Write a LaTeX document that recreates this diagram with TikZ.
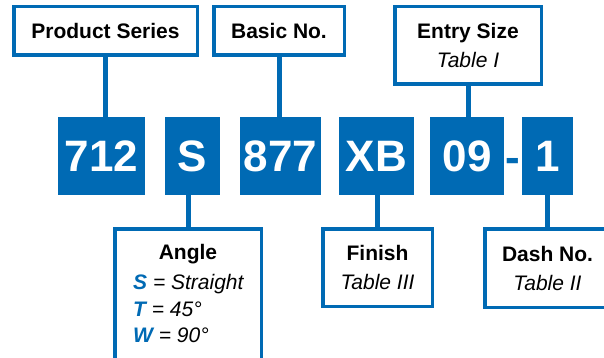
\documentclass[tikz,border=0pt]{standalone}
\usepackage{fontspec}
\setmainfont{Liberation Sans}
\definecolor{pblue}{RGB}{0,106,180}
\begin{document}
\begin{tikzpicture}[x=1pt,y=-1pt,
  code/.style={fill=pblue, text=white, font=\fontsize{44}{44}\selectfont\bfseries,
    inner sep=0pt, outer sep=0pt, minimum height=78pt, text height=31.5pt, text depth=0pt,
    anchor=north west},
  lbl/.style={draw=pblue, line width=3.5pt, fill=white, inner sep=0pt, outer sep=0pt,
    align=center, font=\fontsize{21}{29}\selectfont},
  conn/.style={draw=pblue, line width=5pt},
  hd/.style={font=\fontsize{21}{29}\selectfont\bfseries},
  bl/.style={text=pblue, font=\bfseries\itshape}]
\useasboundingbox (0,0) rectangle (604,358);
\clip (0,0) rectangle (604,358);
\fill[white] (0,0) rectangle (604,358);
% code boxes
\node[code, minimum width=87pt] (c712) at (58,117) {712};
\node[code, minimum width=55pt] (cS) at (165,117) {S};
\node[code, minimum width=81pt] (c877) at (240,117) {877};
\node[code, minimum width=75pt] (cXB) at (339,117) {XB};
\node[code, minimum width=74pt] (c09) at (430,117) {09};
\node[code, minimum width=51pt] (c1) at (522,117) {1};
\node[text=pblue, font=\fontsize{44}{44}\selectfont\bfseries, inner sep=0pt, anchor=base] (dash) at (513,172) {-};
% label boxes
\node[lbl, minimum width=183.5pt, minimum height=48.5pt, font=\fontsize{21}{29}\selectfont\bfseries] (ps) at (105.5,31) {Product Series};
\node[lbl, minimum width=130.5pt, minimum height=48.5pt, font=\fontsize{21}{29}\selectfont\bfseries] (bn) at (279,31) {Basic No.};
\node[lbl, minimum width=146.5pt, minimum height=77.5pt] (es) at (468,45.5) {\textbf{Entry Size}\\\textit{Table I}};
\node[lbl, minimum width=146.5pt, minimum height=170pt, anchor=north] (ang) at (188,228.75) {};
\node[lbl, minimum width=109.5pt, minimum height=77.5pt] (fin) at (377.5,267.5) {\textbf{Finish}\\\textit{Table III}};
\node[lbl, minimum width=125.5pt, minimum height=78.5pt] (dn) at (547.5,268) {\textbf{Dash No.}\\\textit{Table II}};
% angle texts
\node[hd, inner sep=0pt] (angt) at (188,254) {Angle};
\node[inner sep=0pt, anchor=north west, align=left, font=\fontsize{21}{26.5}\selectfont] (angl) at (133,274.5)
  {\textcolor{pblue}{\bfseries\itshape S} \textit{= Straight}\\
   \textcolor{pblue}{\bfseries\itshape T} \textit{= 45°}\\
   \textcolor{pblue}{\bfseries\itshape W} \textit{= 90°}};
% connectors
\draw[conn] (ps.south) -- (ps.south |- c712.north);
\draw[conn] (bn.south) -- (bn.south |- c877.north);
\draw[conn] (es.south) -- (es.south |- c09.north);
\draw[conn] (ang.north) -- (ang.north |- cS.south);
\draw[conn] (fin.north) -- (fin.north |- cXB.south);
\draw[conn] (dn.north) -- (dn.north |- c1.south);
\end{tikzpicture}
\end{document}
